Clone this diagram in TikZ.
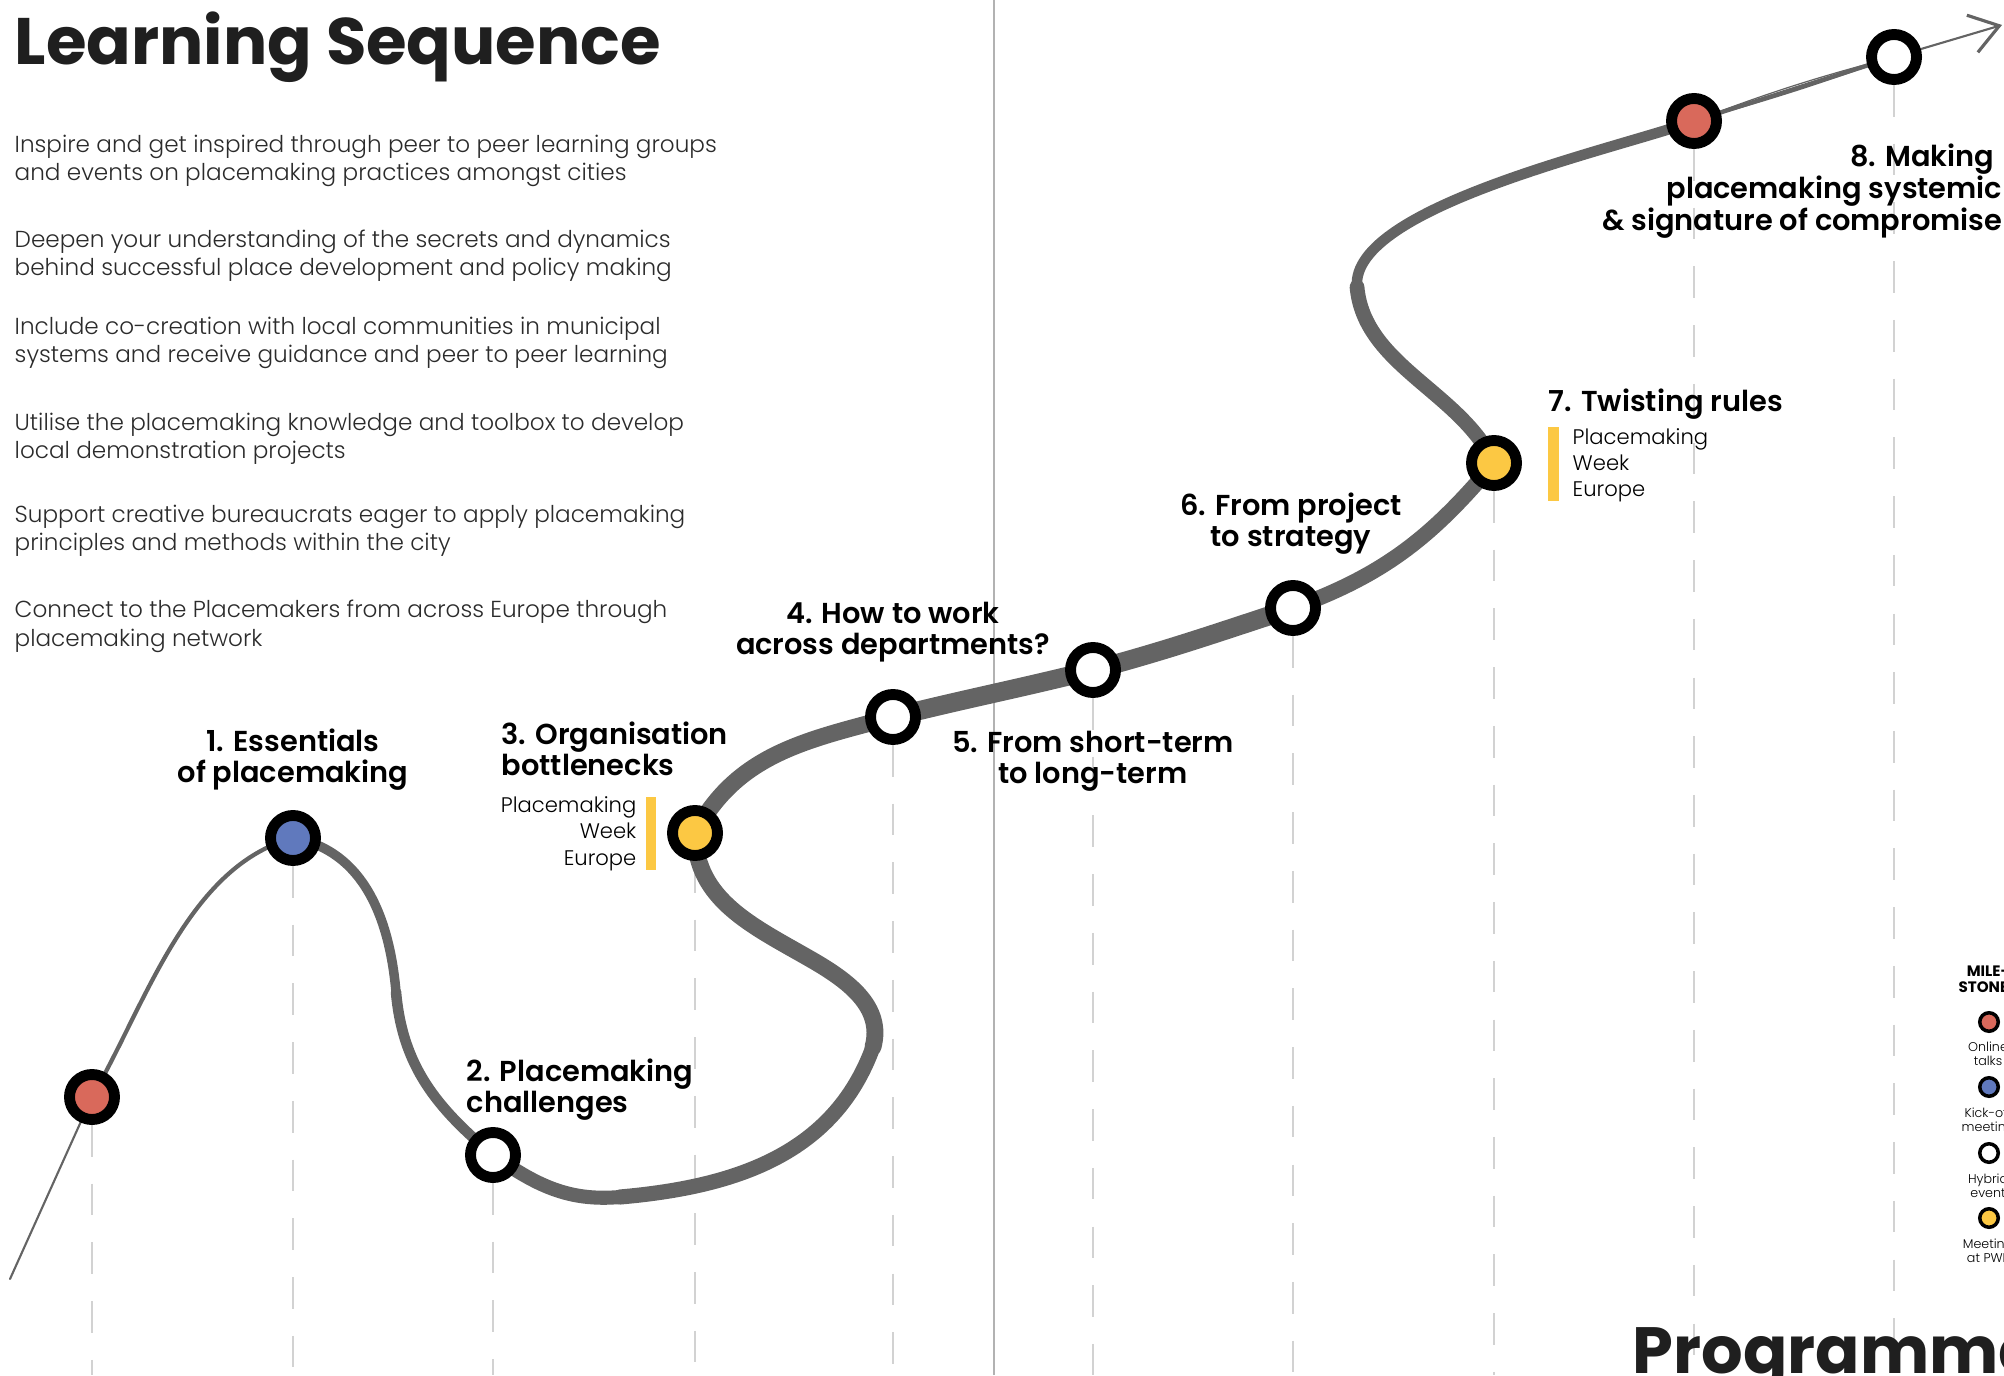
\documentclass[tikz,border=0pt]{standalone}
\usepackage{fontspec}
\setmainfont{Poppins}
\newfontfamily\lightfont{Poppins Light}
\newfontfamily\semifont{Poppins SemiBold}
\usetikzlibrary{positioning, arrows.meta, backgrounds}

\definecolor{talkred}{HTML}{D9695B}
\definecolor{kickblue}{HTML}{6079BD}
\definecolor{pweyellow}{HTML}{FCC843}
\definecolor{brushgray}{HTML}{646464}
\definecolor{guidegray}{HTML}{D2D2D2}
\definecolor{inkgray}{HTML}{2B2B2B}

\tikzset{
    milestone/.style={circle, draw=black, line width=3.1pt, minimum size=0.45cm, inner sep=0pt},
    keydot/.style={circle, draw=black, line width=1pt, minimum size=0.185cm, inner sep=0pt},
    guide/.style={draw=guidegray, line width=0.6pt, dash pattern=on 9pt off 7.7pt},
    divider/.style={draw=guidegray!85!black, line width=0.35pt},
    brush/.style={draw=brushgray, line cap=round},
    strand/.style={draw=brushgray, line cap=round, line width=0.35pt},
    steplabel/.style={font=\semifont\fontsize{8.2}{8.8}\selectfont, inner sep=0pt},
    pwe/.style={font=\lightfont\fontsize{6}{7.4}\selectfont, inner sep=0pt},
    para/.style={font=\lightfont\fontsize{6.58}{8.1}\selectfont, text=inkgray, align=left, anchor=base west, inner sep=0pt},
    keytext/.style={font=\lightfont\fontsize{3.6}{3.85}\selectfont, align=center, anchor=base, inner sep=0pt},
    bigtitle/.style={font=\bfseries\fontsize{18.7}{22}\selectfont, text=black!88, anchor=base west, inner sep=0pt}
}

\begin{document}
\begin{tikzpicture}[x=0.01cm, y=0.01cm]
    \useasboundingbox (0,0) rectangle (2004,1375);

    % milestones along the path
    \node[milestone, fill=talkred] (s0) at (92,278) {};
    \node[milestone, fill=kickblue] (s1) at (293,537) {};
    \node[milestone, fill=white] (s2) at (493,220) {};
    \node[milestone, fill=pweyellow] (s3) at (695,542) {};
    \node[milestone, fill=white] (s4) at (893,658) {};
    \node[milestone, fill=white] (s5) at (1093,705) {};
    \node[milestone, fill=white] (s6) at (1293,767) {};
    \node[milestone, fill=pweyellow] (s7) at (1494,912) {};
    \node[milestone, fill=talkred] (s8) at (1694,1254) {};
    \node[milestone, fill=white] (s9) at (1894,1318) {};

    \coordinate (start) at (10,96);
    \coordinate (dip) at (396,383);
    \coordinate (loopB) at (620,178);
    \coordinate (loopR) at (873,328);
    \coordinate (loopT) at (812,415);
    \coordinate (bendL) at (1357,1088);
    \coordinate (tip) at (2002,1350);
    \coordinate (floor) at (0,0);

    \begin{pgfonlayer}{background}
        \foreach \s in {s0,s1,s2,s3,s4,s5,s6,s7,s8,s9}
            \draw[guide] (\s.south) -- (\s |- floor);
        \draw[divider] (994,0) -- (994,1375);

        % the learning path, getting heavier as it climbs
        \draw[brush, line width=0.6pt] (start) -- (s0.center);
        \draw[brush, line width=1.2pt] (s0.center) to[out=60, in=195, looseness=0.85] (s1.center);
        \draw[brush, line width=2.7pt] (s1.center) to[out=-10, in=95] (dip);
        \draw[brush, line width=3pt] (dip) to[out=-85, in=140] (s2.center);
        \draw[brush, line width=4pt] (s2.center) to[out=-35, in=185] (loopB);
        \draw[brush, line width=4.3pt] (loopB) to[out=5, in=-110] (loopR);
        \draw[brush, line width=4.8pt] (loopR) to[out=75, in=-30] (loopT)
            to[out=150, in=-90] (s3.center);
        \draw[brush, line width=4.8pt] (s3.center) to[out=62, in=195] (s4.center);
        \draw[brush, line width=5.4pt] (s4.center) to[out=14, in=194] (s5.center)
            to[out=15, in=198] (s6.center);
        \draw[brush, line width=4.4pt] (s6.center) to[out=20, in=230] (s7.center);
        \draw[brush, line width=4.2pt] (s7.center) to[out=115, in=-85, looseness=0.9] (bendL);
        \draw[brush, line width=3pt] (bendL) to[out=95, in=200, looseness=0.55] (s8.center);
        \draw[brush, line width=1.2pt] (s8.center) -- (s9.center);
        \draw[brush, line width=0.6pt, -{Straight Barb[length=8pt, width=11pt, line width=0.9pt]}]
            (s9.center) -- (tip);

        % loose bristles of the brush
        \draw[strand] (s6.center) to[out=24, in=226] (s7.center);
        \draw[strand] (s7.center) to[out=120, in=-80, looseness=0.95] (bendL);
        \draw[strand] (bendL) to[out=98, in=204, looseness=0.6] (s8.center);
        \draw[strand] (s8.center) to[bend left=3] (s9.center);
        \draw[strand] (s8.center) to[bend right=2] (s9.center);
    \end{pgfonlayer}

    \node[bigtitle] (title) at (14,1310) {Learning Sequence};

    \node[para] (p1) at (14,1194) {Inspire and get inspired through peer to peer learning groups\\and events on placemaking practices amongst cities};
    \node[para] (p2) at (14,1099) {Deepen your understanding of the secrets and dynamics\\behind successful place development and policy making};
    \node[para] (p3) at (14,1012) {Include co-creation with local communities in municipal\\systems and receive guidance and peer to peer learning};
    \node[para] (p4) at (14,916) {Utilise the placemaking knowledge and toolbox to develop\\local demonstration projects};
    \node[para] (p5) at (14,824) {Support creative bureaucrats eager to apply placemaking\\principles and methods within the city};
    \node[para] (p6) at (14,729) {Connect to the Placemakers from across Europe through\\placemaking network};

    % step names (multi-line nodes sit on their last baseline)
    \node[steplabel, align=center, anchor=base] (l1) at (293,593) {1. Essentials\\of placemaking};
    \node[steplabel, align=left, anchor=base west] (l2) at (466,263) {2. Placemaking\\challenges};
    \node[steplabel, align=left, anchor=base west] (l3) at (501,600) {3. Organisation\\bottlenecks};
    \node[pwe, align=right, anchor=base east] (w3) at (637,510) {Placemaking\\Week\\Europe};
    \fill[pweyellow] (646,505) rectangle (656,578);
    \node[steplabel, align=center, anchor=base] (l4) at (893,721) {4. How to work\\across departments?};
    \node[steplabel, align=center, anchor=base] (l5) at (1093,592) {5. From short-term\\to long-term};
    \node[steplabel, align=center, anchor=base] (l6) at (1291,829) {6. From project\\to strategy};
    \node[steplabel, anchor=base west] (l7) at (1548,963) {7. Twisting rules};
    \node[pwe, align=left, anchor=base west] (w7) at (1572,878) {Placemaking\\Week\\Europe};
    \fill[pweyellow] (1548,874) rectangle (1559,948);
    \node[steplabel, font=\semifont\fontsize{8.2}{9.1}\selectfont, align=right, anchor=base east] (l8) at (2003,1144) {8. Making\hspace*{2.3pt}\\placemaking systemic\\\& signature of compromise};

    % legend
    \node[keytext, font=\bfseries\fontsize{4.3}{4.3}\selectfont] (keyhead) at (1988,383) {MILE-\\STONES};
    \node[keydot, fill=talkred] (k1) at (1989,353) {};
    \node[keydot, fill=kickblue] (k2) at (1989,288) {};
    \node[keydot, fill=white] (k3) at (1989,222) {};
    \node[keydot, fill=pweyellow] (k4) at (1989,157) {};
    \node[keytext] (t1) at (1988,310) {Online\\talks};
    \node[keytext] (t2) at (1988,244) {Kick-off\\meeting};
    \node[keytext] (t3) at (1988,178) {Hybrid\\event};
    \node[keytext] (t4) at (1988,113) {Meeting\\at PWE};

    \node[bigtitle, font=\bfseries\fontsize{18.6}{22}\selectfont] (prog) at (1632,1.5) {Programme};
\end{tikzpicture}
\end{document}
